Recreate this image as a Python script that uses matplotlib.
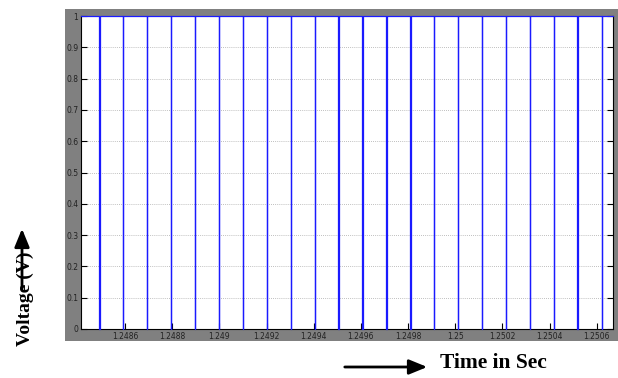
import numpy as np
import matplotlib
matplotlib.use("Agg")
import matplotlib.pyplot as plt
from matplotlib.patches import Rectangle

# times (s) where the pulse train drops to 0 for a moment
dip_times = [1.248491, 1.248592, 1.248694, 1.248795, 1.248897, 1.248998,
             1.249100, 1.249201, 1.249303, 1.249404, 1.249505, 1.249607,
             1.249708, 1.249810, 1.249911, 1.250012, 1.250114, 1.250215,
             1.250317, 1.250418, 1.250519, 1.250621]
dip_width = 1.5e-6
v_high = 1.0
v_low = 0.0

x_ticks = [1.2486, 1.2488, 1.249, 1.2492, 1.2494, 1.2496, 1.2498,
           1.25, 1.2502, 1.2504, 1.2506]
y_ticks = [0, 0.1, 0.2, 0.3, 0.4, 0.5, 0.6, 0.7, 0.8, 0.9, 1]
x_range = (1.248413, 1.250669)

# build the step waveform from the dips
t = [x_range[0]]
v = [v_high]
for d in dip_times:
    t += [d - dip_width / 2, d - dip_width / 2, d + dip_width / 2, d + dip_width / 2]
    v += [v_high, v_low, v_low, v_high]
t.append(x_range[1])
v.append(v_high)

W, H = 618, 378
fig = plt.figure(figsize=(W / 100, H / 100), dpi=100)
fig.patch.set_facecolor("white")

# grey matlab figure panel
fig.add_artist(Rectangle((65 / W, 1 - 341 / H), (618 - 65) / W, (341 - 9) / H,
                         transform=fig.transFigure, facecolor="#808080",
                         edgecolor="none", zorder=0))

ax = fig.add_axes([81 / W, 1 - 329 / H, (613 - 81) / W, (329 - 16) / H])
ax.set_facecolor("white")
ax.plot(t, v, color="#1a1aff", lw=0.9, zorder=3, clip_on=False)

ax.set_xlim(*x_range)
ax.set_ylim(0, 1)
ax.set_xticks(x_ticks)
ax.set_xticklabels(["%g" % x for x in x_ticks])
ax.set_yticks(y_ticks)
ax.set_yticklabels(["%g" % y for y in y_ticks])
ax.tick_params(direction="in", length=4, width=0.8, labelsize=5.5,
               labelcolor="#222222", top=False, right=True, pad=2)
ax.grid(axis="y", linestyle=(0, (1, 1.5)), color="#aaaaaa", lw=0.6)
for s in ax.spines.values():
    s.set_linewidth(0.8)
    s.set_color("black")
ax.spines["top"].set_visible(False)

# axis captions with arrows
fig.text(440 / W, 1 - 363 / H, "Time in Sec", family="Liberation Serif",
         weight="bold", fontsize=15.5, va="center", ha="left")
ax.annotate("", xy=(430, H - 367), xytext=(342, H - 367),
            xycoords="figure pixels", textcoords="figure pixels",
            arrowprops=dict(arrowstyle="-|>,head_length=1.1,head_width=0.45",
                            color="black", lw=2))

fig.text(25 / W, 1 - 299 / H, "Voltage (V)", family="Liberation Serif",
         weight="bold", fontsize=14, rotation=90, va="center", ha="center")
ax.annotate("", xy=(22, H - 226), xytext=(22, H - 292),
            xycoords="figure pixels", textcoords="figure pixels",
            arrowprops=dict(arrowstyle="-|>,head_length=1.1,head_width=0.45",
                            color="black", lw=2))

fig.savefig("out.png", dpi=100)
